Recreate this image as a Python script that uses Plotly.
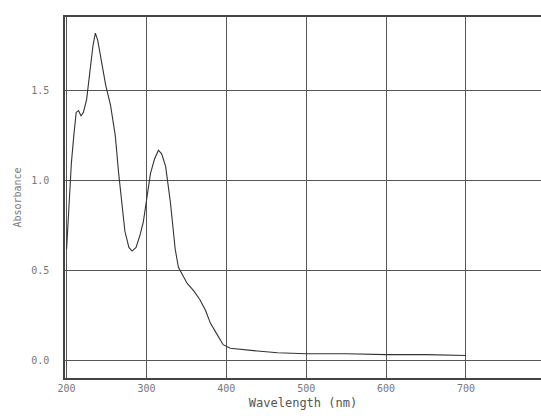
import plotly.graph_objects as go

wavelength = [200, 203, 206, 209, 212, 215, 218, 221, 225, 229, 233, 236, 239, 243,
              249, 255, 261, 265, 269, 273, 278, 282, 287, 292, 296, 301, 305, 310,
              315, 319, 324, 330, 336, 340, 346, 351, 359, 367, 374, 380, 388, 396,
              405, 414, 439, 464, 500, 550, 600, 650, 700]
absorbance = [0.62, 0.85, 1.10, 1.25, 1.38, 1.39, 1.36, 1.38, 1.45, 1.60, 1.75, 1.82,
              1.78, 1.68, 1.53, 1.42, 1.25, 1.05, 0.87, 0.72, 0.63, 0.61, 0.63, 0.70,
              0.77, 0.93, 1.04, 1.12, 1.17, 1.15, 1.08, 0.88, 0.62, 0.52, 0.47, 0.43,
              0.39, 0.34, 0.28, 0.21, 0.15, 0.09, 0.07, 0.065, 0.055, 0.045, 0.04,
              0.04, 0.035, 0.035, 0.03]

x_ticks = [200, 300, 400, 500, 600, 700]
x_labels = ["200", "300", "400", "500", "600", "700"]
y_ticks = [0.0, 0.5, 1.0, 1.5]
y_labels = ["0.0", "0.5", "1.0", "1.5"]

font = dict(family="DejaVu Sans Mono", size=10, color="#666")

fig = go.Figure()
fig.add_trace(go.Scatter(x=wavelength, y=absorbance, mode="lines",
                         line=dict(color="#333", width=1.1), showlegend=False))

fig.update_layout(
    width=541, height=416,
    margin=dict(l=65, r=0, t=17, b=38),
    paper_bgcolor="white", plot_bgcolor="white",
    font=font,
    xaxis=dict(range=[198, 794], tickvals=x_ticks, ticktext=x_labels,
               showgrid=True, gridcolor="#555", gridwidth=1.3,
               showline=True, linecolor="#444", linewidth=2, mirror=True,
               ticks="", zeroline=False,
               title=dict(text="Wavelength (nm)", standoff=6, font=dict(size=12, color="#555")),
               tickfont=dict(size=10, color="#777")),
    yaxis=dict(range=[-0.095, 1.91], tickvals=y_ticks, ticktext=y_labels,
               showgrid=True, gridcolor="#555", gridwidth=1.3,
               showline=True, linecolor="#444", linewidth=1.5,
               ticks="", zeroline=False, ticklabelstandoff=12,
               title=dict(text="Absorbance", standoff=8, font=dict(size=10, color="#777")),
               tickfont=dict(size=10, color="#777")),
)

fig.write_html("out.html")
